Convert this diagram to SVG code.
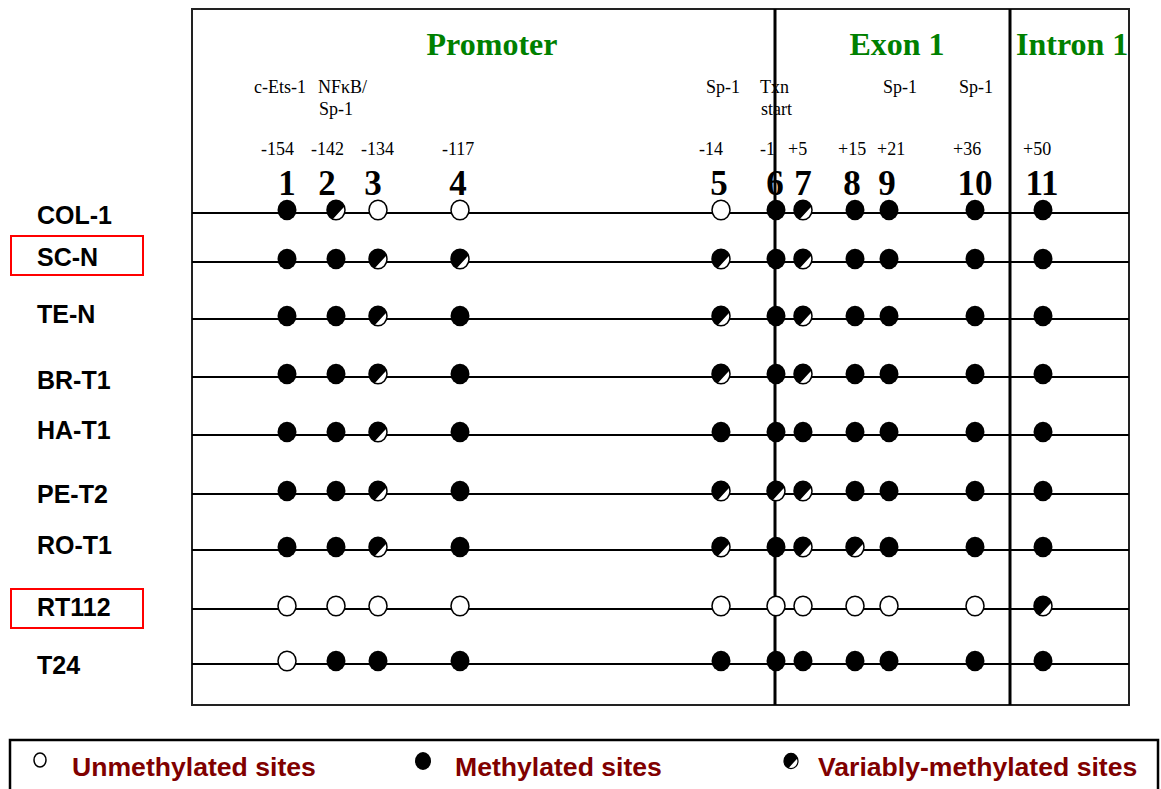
<svg xmlns="http://www.w3.org/2000/svg" xmlns:xlink="http://www.w3.org/1999/xlink" width="1161" height="789" viewBox="0 0 1161 789">
<style>
.reg{font-family:"Liberation Serif","Times New Roman",serif;font-size:18px;fill:#000}
.num{font-family:"Liberation Serif","Times New Roman",serif;font-size:35px;font-weight:bold;fill:#000;text-anchor:middle}
.sec{font-family:"Liberation Serif","Times New Roman",serif;font-size:32px;font-weight:bold;fill:#008000}
.row{font-family:"Liberation Sans",Arial,sans-serif;font-size:25px;font-weight:bold;fill:#000}
.leg{font-family:"Liberation Sans",Arial,sans-serif;font-size:26.6px;font-weight:bold;fill:#800000}
.ln{stroke:#000;stroke-width:2;fill:none}
.vl{stroke:#000;stroke-width:3;fill:none}
.redbox{stroke:#ff0000;stroke-width:2;fill:none}
</style>
<defs>
<g id="o"><ellipse rx="9" ry="9.8" fill="#fff" stroke="#000" stroke-width="1.5"/></g>
<g id="f"><ellipse rx="9.5" ry="10.3" fill="#000"/></g>
<g id="v"><ellipse rx="9" ry="9.8" fill="#fff" stroke="#000" stroke-width="1.5"/><path d="M-3.27 8.39 A9 9 0 1 1 8.39 -3.27 Z" transform="scale(1,1.09)" fill="#000"/></g>
</defs>
<rect width="1161" height="789" fill="#fff"/>

<g id="frame">
<rect x="192" y="9" width="937" height="696" fill="none" stroke="#222" stroke-width="2"/>
</g>

<g id="header">
<text class="sec" x="492" y="55" text-anchor="middle">Promoter</text>
<text class="sec" x="897" y="55" text-anchor="middle">Exon 1</text>
<text class="sec" x="1016" y="55">Intron 1</text>
<text class="reg" x="254" y="93">c-Ets-1</text>
<text class="reg" x="318" y="93">NFκB/</text>
<text class="reg" x="319" y="115">Sp-1</text>
<text class="reg" x="706" y="93">Sp-1</text>
<text class="reg" x="760" y="93">Txn</text>
<text class="reg" x="761" y="115">start</text>
<text class="reg" x="883" y="93">Sp-1</text>
<text class="reg" x="959" y="93">Sp-1</text>
<text class="reg" x="261" y="155">-154</text>
<text class="reg" x="311" y="155">-142</text>
<text class="reg" x="361" y="155">-134</text>
<text class="reg" x="442" y="155">-117</text>
<text class="reg" x="699" y="155">-14</text>
<text class="reg" x="760" y="155">-1</text>
<text class="reg" x="788" y="155">+5</text>
<text class="reg" x="838" y="155">+15</text>
<text class="reg" x="877" y="155">+21</text>
<text class="reg" x="953" y="155">+36</text>
<text class="reg" x="1023" y="155">+50</text>
<text class="num" x="287" y="195">1</text>
<text class="num" x="327" y="195">2</text>
<text class="num" x="373" y="195">3</text>
<text class="num" x="458" y="195">4</text>
<text class="num" x="719" y="195">5</text>
<text class="num" x="775" y="195">6</text>
<text class="num" x="803" y="195">7</text>
<text class="num" x="852" y="195">8</text>
<text class="num" x="887" y="195">9</text>
<text class="num" x="975" y="195">10</text>
<text class="num" x="1042" y="195">11</text>
</g>

<g id="connectors">
<line class="ln" x1="192" y1="213" x2="1129" y2="213"/>
<line class="ln" x1="192" y1="262" x2="1129" y2="262"/>
<line class="ln" x1="192" y1="319" x2="1129" y2="319"/>
<line class="ln" x1="192" y1="377" x2="1129" y2="377"/>
<line class="ln" x1="192" y1="435" x2="1129" y2="435"/>
<line class="ln" x1="192" y1="494" x2="1129" y2="494"/>
<line class="ln" x1="192" y1="550" x2="1129" y2="550"/>
<line class="ln" x1="192" y1="609" x2="1129" y2="609"/>
<line class="ln" x1="192" y1="664" x2="1129" y2="664"/>
<line class="vl" x1="775" y1="9" x2="775" y2="705"/>
<line class="vl" x1="1010" y1="9" x2="1010" y2="705"/>
</g>

<g id="labels">
<text class="row" x="37" y="224">COL-1</text>
<rect class="redbox" x="11" y="236" width="132" height="39"/>
<text class="row" x="37" y="266">SC-N</text>
<text class="row" x="37" y="323">TE-N</text>
<text class="row" x="37" y="389">BR-T1</text>
<text class="row" x="37" y="439">HA-T1</text>
<text class="row" x="37" y="503">PE-T2</text>
<text class="row" x="37" y="554">RO-T1</text>
<rect class="redbox" x="11" y="589" width="132" height="39"/>
<text class="row" x="37" y="616">RT112</text>
<text class="row" x="37" y="674">T24</text>
</g>

<g id="row-COL-1">
<use href="#f" x="287" y="210"/><use href="#v" x="336" y="210"/><use href="#o" x="378" y="210"/><use href="#o" x="460" y="210"/>
<use href="#o" x="721" y="210"/><use href="#f" x="776" y="210"/><use href="#v" x="803" y="210"/><use href="#f" x="855" y="210"/><use href="#f" x="889" y="210"/><use href="#f" x="975" y="210"/><use href="#f" x="1043" y="210"/>
</g>
<g id="row-SC-N">
<use href="#f" x="287" y="259"/><use href="#f" x="336" y="259"/><use href="#v" x="378" y="259"/><use href="#v" x="460" y="259"/>
<use href="#v" x="721" y="259"/><use href="#f" x="776" y="259"/><use href="#v" x="803" y="259"/><use href="#f" x="855" y="259"/><use href="#f" x="889" y="259"/><use href="#f" x="975" y="259"/><use href="#f" x="1043" y="259"/>
</g>
<g id="row-TE-N">
<use href="#f" x="287" y="316"/><use href="#f" x="336" y="316"/><use href="#v" x="378" y="316"/><use href="#f" x="460" y="316"/>
<use href="#v" x="721" y="316"/><use href="#f" x="776" y="316"/><use href="#v" x="803" y="316"/><use href="#f" x="855" y="316"/><use href="#f" x="889" y="316"/><use href="#f" x="975" y="316"/><use href="#f" x="1043" y="316"/>
</g>
<g id="row-BR-T1">
<use href="#f" x="287" y="374"/><use href="#f" x="336" y="374"/><use href="#v" x="378" y="374"/><use href="#f" x="460" y="374"/>
<use href="#v" x="721" y="374"/><use href="#f" x="776" y="374"/><use href="#v" x="803" y="374"/><use href="#f" x="855" y="374"/><use href="#f" x="889" y="374"/><use href="#f" x="975" y="374"/><use href="#f" x="1043" y="374"/>
</g>
<g id="row-HA-T1">
<use href="#f" x="287" y="432"/><use href="#f" x="336" y="432"/><use href="#v" x="378" y="432"/><use href="#f" x="460" y="432"/>
<use href="#f" x="721" y="432"/><use href="#f" x="776" y="432"/><use href="#f" x="803" y="432"/><use href="#f" x="855" y="432"/><use href="#f" x="889" y="432"/><use href="#f" x="975" y="432"/><use href="#f" x="1043" y="432"/>
</g>
<g id="row-PE-T2">
<use href="#f" x="287" y="491"/><use href="#f" x="336" y="491"/><use href="#v" x="378" y="491"/><use href="#f" x="460" y="491"/>
<use href="#v" x="721" y="491"/><use href="#v" x="776" y="491"/><use href="#v" x="803" y="491"/><use href="#f" x="855" y="491"/><use href="#f" x="889" y="491"/><use href="#f" x="975" y="491"/><use href="#f" x="1043" y="491"/>
</g>
<g id="row-RO-T1">
<use href="#f" x="287" y="547"/><use href="#f" x="336" y="547"/><use href="#v" x="378" y="547"/><use href="#f" x="460" y="547"/>
<use href="#v" x="721" y="547"/><use href="#f" x="776" y="547"/><use href="#v" x="803" y="547"/><use href="#v" x="855" y="547"/><use href="#f" x="889" y="547"/><use href="#f" x="975" y="547"/><use href="#f" x="1043" y="547"/>
</g>
<g id="row-RT112">
<use href="#o" x="287" y="606"/><use href="#o" x="336" y="606"/><use href="#o" x="378" y="606"/><use href="#o" x="460" y="606"/>
<use href="#o" x="721" y="606"/><use href="#o" x="776" y="606"/><use href="#o" x="803" y="606"/><use href="#o" x="855" y="606"/><use href="#o" x="889" y="606"/><use href="#o" x="975" y="606"/><use href="#v" x="1043" y="606"/>
</g>
<g id="row-T24">
<use href="#o" x="287" y="661"/><use href="#f" x="336" y="661"/><use href="#f" x="378" y="661"/><use href="#f" x="460" y="661"/>
<use href="#f" x="721" y="661"/><use href="#f" x="776" y="661"/><use href="#f" x="803" y="661"/><use href="#f" x="855" y="661"/><use href="#f" x="889" y="661"/><use href="#f" x="975" y="661"/><use href="#f" x="1043" y="661"/>
</g>

<g id="legend">
<rect x="10" y="740" width="1148" height="70" fill="none" stroke="#000" stroke-width="2.5"/>
<ellipse cx="40" cy="760" rx="6" ry="7" fill="#fff" stroke="#000" stroke-width="1.5"/>
<text class="leg" x="72" y="776">Unmethylated sites</text>
<ellipse cx="423" cy="761" rx="8" ry="9" fill="#000"/>
<text class="leg" x="455" y="776">Methylated sites</text>
<g transform="translate(791,761) scale(0.78)"><use href="#v"/></g>
<text class="leg" x="818" y="776">Variably-methylated sites</text>
</g>
</svg>
